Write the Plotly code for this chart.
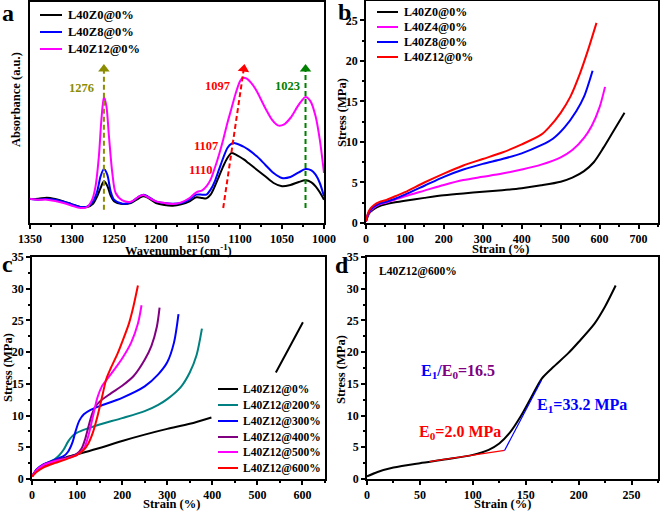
import plotly.graph_objects as go
import math

W, H = 660, 511
FONT = "Liberation Serif"

# ---------------- Panel a: FTIR ----------------
wn_z0 = [1350,1340,1330,1320,1310,1300,1290,1282,1275,1270,1266,1262,1258,1254,1250,1240,1230,1220,1215,1210,1200,1190,1180,1170,1160,1152,1145,1140,1135,1130,1125,1120,1115,1110,1105,1100,1095,1090,1080,1070,1060,1050,1040,1030,1022,1015,1010,1005,1000]
ab_z0 = [0.72,0.73,0.76,0.72,0.65,0.56,0.48,0.48,0.58,0.80,1.05,1.25,1.12,0.82,0.65,0.57,0.60,0.75,0.80,0.76,0.60,0.54,0.52,0.56,0.65,0.77,0.75,0.74,0.85,1.10,1.40,1.70,1.95,2.10,2.05,1.98,1.90,1.80,1.60,1.40,1.20,1.10,1.14,1.23,1.28,1.22,1.10,0.92,0.70]
wn_z8 = [1350,1340,1330,1320,1310,1300,1290,1282,1275,1270,1266,1262,1258,1254,1250,1240,1230,1220,1215,1210,1200,1190,1180,1170,1160,1152,1145,1140,1135,1130,1125,1120,1115,1110,1107,1100,1095,1090,1080,1070,1060,1050,1040,1030,1022,1015,1010,1005,1000]
ab_z8 = [0.72,0.70,0.72,0.70,0.64,0.56,0.48,0.49,0.65,0.95,1.40,1.62,1.45,0.95,0.70,0.58,0.62,0.80,0.85,0.80,0.65,0.60,0.58,0.60,0.70,0.85,0.85,0.85,1.00,1.25,1.60,1.95,2.25,2.38,2.40,2.34,2.28,2.20,2.00,1.75,1.50,1.35,1.38,1.52,1.62,1.58,1.45,1.20,0.80]
wn_z12 = [1350,1340,1330,1320,1310,1300,1290,1282,1276,1272,1268,1265,1262,1259,1256,1252,1248,1240,1230,1220,1215,1210,1200,1190,1180,1170,1160,1152,1145,1140,1135,1130,1125,1120,1115,1110,1105,1100,1097,1092,1085,1080,1070,1062,1055,1048,1040,1030,1022,1016,1010,1005,1000]
ab_z12 = [0.73,0.70,0.70,0.66,0.60,0.52,0.45,0.48,0.70,1.10,2.00,3.10,3.78,3.50,2.60,1.50,0.90,0.68,0.64,0.80,0.84,0.78,0.65,0.60,0.57,0.62,0.75,0.92,0.98,1.10,1.30,1.65,2.05,2.50,3.00,3.45,3.90,4.25,4.35,4.33,4.15,3.95,3.45,3.10,2.93,2.95,3.15,3.55,3.78,3.65,3.20,2.50,1.50]
names_a = ["L40Z0@0%", "L40Z8@0%", "L40Z12@0%"]
colors_a = ["#000000", "#0000ff", "#ff00ff"]

guide_x0 = [1262, 1120, 1022]
guide_x1 = [1262, 1095.5, 1022]
guide_y0 = [0.40, 0.45, 0.45]
guide_y1 = [4.62, 4.62, 4.62]
guide_col = ["#8c8c00", "#ff0000", "#008000"]
peak_labels = ["1276", "1097", "1107", "1110", "1023"]
peak_lx = [1289, 1127, 1141, 1147, 1044]
peak_ly = [4.05, 4.12, 2.30, 1.60, 4.12]
peak_col = ["#8c8c00", "#ff0000", "#ff0000", "#ff0000", "#008000"]

# ---------------- Panel b ----------------
sb0_x = [0,5,10,20,35,50,75,100,150,200,250,300,350,400,450,500,530,560,585,610,635,664]
sb0_y = [0.2,0.9,1.3,1.7,2.1,2.3,2.55,2.75,3.1,3.42,3.65,3.85,4.05,4.3,4.65,5.1,5.6,6.4,7.5,9.3,11.3,13.6]
sb4_x = [0,5,10,20,35,50,75,100,150,200,250,300,350,400,450,500,530,560,580,600,614]
sb4_y = [0.2,1.0,1.4,1.9,2.3,2.5,2.9,3.3,4.0,4.7,5.3,5.7,6.1,6.6,7.2,8.1,9.0,10.5,12.0,14.3,16.8]
sb8_x = [0,5,10,20,35,50,75,100,150,200,250,300,350,400,450,480,510,540,560,582]
sb8_y = [0.2,1.1,1.5,2.0,2.4,2.6,3.0,3.5,4.6,5.7,6.6,7.3,7.9,8.6,9.6,10.4,11.8,13.8,15.6,18.8]
sb12_x = [0,5,10,20,35,50,75,100,150,200,250,300,350,400,450,470,500,525,550,570,592]
sb12_y = [0.2,1.2,1.7,2.2,2.6,2.8,3.3,3.8,5.0,6.1,7.1,7.9,8.7,9.7,10.9,11.8,13.6,15.6,18.5,21.3,24.7]
names_b = ["L40Z0@0%", "L40Z4@0%", "L40Z8@0%", "L40Z12@0%"]
colors_b = ["#000000", "#ff00ff", "#0000ff", "#ff0000"]

# ---------------- Panel c ----------------
c0_x = [0,10,25,50,75,100,150,200,250,300,350,398,None,541,570,601]
c0_y = [0.4,1.3,2.0,2.8,3.4,3.9,4.9,6.0,7.0,7.9,8.7,9.7,None,16.8,20.6,24.7]
c200_x = [0,10,25,50,60,70,80,90,100,125,150,200,250,280,300,330,350,365,377]
c200_y = [0.4,1.4,2.2,3.1,3.7,4.6,5.9,6.8,7.3,8.0,8.6,9.6,10.7,11.7,12.6,14.5,16.8,19.5,23.7]
c300_x = [0,10,25,50,70,80,90,97,105,115,130,150,200,250,280,300,315,325]
c300_y = [0.4,1.5,2.3,3.0,3.6,4.3,5.8,7.6,9.2,10.2,10.9,11.5,12.8,14.6,16.5,18.4,21.5,26.0]
c400_x = [0,10,25,50,75,100,110,118,125,133,140,150,175,200,225,250,265,277,283]
c400_y = [0.4,1.4,2.2,2.9,3.3,4.0,4.8,6.3,8.2,10.2,11.3,12.2,13.5,14.7,16.2,18.8,21.0,24.0,27.0]
c500_x = [0,10,25,50,75,100,115,125,135,145,155,165,180,200,220,235,243]
c500_y = [0.4,1.4,2.2,2.8,3.2,3.8,4.8,6.8,9.8,12.8,14.6,15.6,17.0,19.0,21.5,24.5,27.4]
c600_x = [0,10,25,50,75,100,115,125,135,145,155,165,175,190,200,215,225,235]
c600_y = [0.4,1.1,1.8,2.5,3.1,3.8,4.6,5.6,7.3,9.8,12.8,15.8,17.5,19.8,21.6,24.5,27.2,30.5]
names_c = ["L40Z12@0%", "L40Z12@200%", "L40Z12@300%", "L40Z12@400%", "L40Z12@500%", "L40Z12@600%"]
colors_c = ["#000000", "#008080", "#0000ff", "#800080", "#ff00ff", "#ff0000"]

# ---------------- Panel d ----------------
e0_x = [59, 130]
e0_y = [2.75, 4.5]
e1_x = [130, 165]
e1_y = [4.5, 15.6]

fig = go.Figure()

def px_x(p):
    return p / W

def px_y(p):
    return 1 - p / H

dom = {
    "a": ([30, 324], [2, 223]),
    "b": ([366, 658], [1, 223]),
    "c": ([32, 325], [257, 479]),
    "d": ([367, 658], [257, 479]),
}

def xd(k):
    return [px_x(dom[k][0][0]), px_x(dom[k][0][1])]

def yd(k):
    return [px_y(dom[k][1][1]), px_y(dom[k][1][0])]

for xs, ys, c, n in zip([wn_z0, wn_z8, wn_z12], [ab_z0, ab_z8, ab_z12], colors_a, names_a):
    fig.add_trace(go.Scatter(x=xs, y=ys, mode="lines", name=n, line=dict(color=c, width=2, shape="spline", smoothing=0.8),
                             xaxis="x", yaxis="y", showlegend=False))

for x0, x1, y0, y1, c in zip(guide_x0, guide_x1, guide_y0, guide_y1, guide_col):
    fig.add_trace(go.Scatter(x=[x0, x1], y=[y0, y1], mode="lines", line=dict(color=c, width=2, dash="5px,3px"),
                             xaxis="x", yaxis="y", showlegend=False, hoverinfo="skip"))
    dxp = -(x1 - x0) * (294 / 350)
    dyp = (y1 - y0) * (221 / 6.63)
    ang = math.degrees(math.atan2(dxp, dyp))
    fig.add_trace(go.Scatter(x=[x1], y=[y1], mode="markers",
                             marker=dict(symbol="triangle-up", size=10, color=c, angle=ang),
                             xaxis="x", yaxis="y", showlegend=False, hoverinfo="skip"))

for xs, ys, c, n in zip([sb0_x, sb4_x, sb8_x, sb12_x], [sb0_y, sb4_y, sb8_y, sb12_y], colors_b, names_b):
    fig.add_trace(go.Scatter(x=xs, y=ys, mode="lines", name=n, line=dict(color=c, width=2, shape="spline", smoothing=0.8),
                             xaxis="x2", yaxis="y2", showlegend=False))

for xs, ys, c, n in zip([c0_x, c200_x, c300_x, c400_x, c500_x, c600_x],
                        [c0_y, c200_y, c300_y, c400_y, c500_y, c600_y], colors_c, names_c):
    fig.add_trace(go.Scatter(x=xs, y=ys, mode="lines", name=n, line=dict(color=c, width=2, shape="spline", smoothing=0.8),
                             xaxis="x3", yaxis="y3", showlegend=False, connectgaps=False))

fig.add_trace(go.Scatter(x=c600_x, y=c600_y, mode="lines", name="L40Z12@600%",
                         line=dict(color="#000000", width=2, shape="spline", smoothing=0.8),
                         xaxis="x4", yaxis="y4", showlegend=False))
fig.add_trace(go.Scatter(x=e0_x, y=e0_y, mode="lines", line=dict(color="#ff0000", width=1.2),
                         xaxis="x4", yaxis="y4", showlegend=False))
fig.add_trace(go.Scatter(x=e1_x, y=e1_y, mode="lines", line=dict(color="#0000ff", width=1.2),
                         xaxis="x4", yaxis="y4", showlegend=False))

tickfont = dict(family=FONT, size=12, color="black", weight="bold")
TITLE_SIZE = 12.5

def axis_common():
    return dict(showline=True, linecolor="black", linewidth=1.8, mirror=True, ticks="outside",
                ticklen=4, tickwidth=1.5, tickcolor="black", tickfont=tickfont, showgrid=False,
                zeroline=False, automargin=False)

xa = axis_common()
xa.update(domain=xd("a"), anchor="y", range=[1350, 1000], dtick=50, tick0=1000,
          minor=dict(ticks="outside", ticklen=2.5, dtick=25, tickcolor="black"))
ya = axis_common()
ya.update(domain=yd("a"), anchor="x", range=[0, 6.63], showticklabels=False, ticks="")

xb = axis_common()
xb.update(domain=xd("b"), anchor="y2", range=[0, 750], dtick=100,
          minor=dict(ticks="outside", ticklen=2.5, dtick=50, tickcolor="black"))
yb = axis_common()
yb.update(domain=yd("b"), anchor="x2", range=[0, 27.4], dtick=5,
          minor=dict(ticks="outside", ticklen=2.5, dtick=2.5, tickcolor="black"))

xc = axis_common()
xc.update(domain=xd("c"), anchor="y3", range=[0, 650], dtick=100,
          minor=dict(ticks="outside", ticklen=2.5, dtick=50, tickcolor="black"))
yc = axis_common()
yc.update(domain=yd("c"), anchor="x3", range=[0, 35], dtick=5,
          minor=dict(ticks="outside", ticklen=2.5, dtick=2.5, tickcolor="black"))

xdd = axis_common()
xdd.update(domain=xd("d"), anchor="y4", range=[0, 275], dtick=50,
           minor=dict(ticks="outside", ticklen=2.5, dtick=25, tickcolor="black"))
ydd = axis_common()
ydd.update(domain=yd("d"), anchor="x4", range=[0, 35], dtick=5,
           minor=dict(ticks="outside", ticklen=2.5, dtick=2.5, tickcolor="black"))

annotations = []
shapes = []

axis_titles = [
    ("Absorbance (a.u.)", 16, 100, -90),
    ("Wavenumber (cm<sup>-1</sup>)", 178, 250, 0),
    ("Strain (%)", 501, 249, 0),
    ("Stress (MPa)", 342, 113, -90),
    ("Strain (%)", 171, 504, 0),
    ("Stress (MPa)", 8, 368, -90),
    ("Strain (%)", 502, 504, 0),
    ("Stress (MPa)", 341, 370, -90),
]
for t, x, y, a in axis_titles:
    annotations.append(dict(text=f"<b>{t}</b>", x=px_x(x), y=px_y(y), xref="paper", yref="paper",
                            xanchor="center", yanchor="middle", textangle=a, showarrow=False,
                            font=dict(family=FONT, size=TITLE_SIZE, color="black")))

for letter, lx, ly in [("a", 0, 13), ("b", 336, 12), ("c", 0, 264), ("d", 333, 265)]:
    annotations.append(dict(text=f"<b>{letter}</b>", x=px_x(lx), y=px_y(ly), xref="paper", yref="paper",
                            xanchor="left", yanchor="middle", showarrow=False,
                            font=dict(family=FONT, size=24, color="black")))

def add_legend(names, colors, x0, x1, tx, ys, size):
    for n, c, yy in zip(names, colors, ys):
        shapes.append(dict(type="line", xref="paper", yref="paper", x0=px_x(x0), x1=px_x(x1),
                           y0=px_y(yy), y1=px_y(yy), line=dict(color=c, width=2)))
        annotations.append(dict(text=f"<b>{n}</b>", x=px_x(tx), y=px_y(yy), xref="paper", yref="paper",
                                xanchor="left", yanchor="middle", showarrow=False,
                                font=dict(family=FONT, size=size, color="black")))

add_legend(names_a, colors_a, 40, 62, 66, [15, 32, 49], 12.5)
add_legend(names_b, colors_b, 377, 398, 402, [12, 27, 42, 57], 12)
add_legend(names_c, colors_c, 218, 238, 241, [389, 405, 421, 437, 452, 468], 11.5)

for t, x, y, c in zip(peak_labels, peak_lx, peak_ly, peak_col):
    annotations.append(dict(text=f"<b>{t}</b>", x=x, y=y, xref="x", yref="y", showarrow=False,
                            font=dict(family=FONT, size=12.5, color=c)))

annotations.append(dict(text="<b>L40Z12@600%</b>", x=(377 - 367) / 291, y=1 - (271 - 257) / 222,
                        xref="x4 domain", yref="y4 domain", xanchor="left", yanchor="middle", showarrow=False,
                        font=dict(family=FONT, size=11.5, color="black")))
annotations.append(dict(text="<b><span style='color:#0000ff'>E<sub>1</sub>/</span><span style='color:#800080'>E<sub>0</sub>=16.5</span></b>",
                        x=86, y=16.9, xref="x4", yref="y4", showarrow=False,
                        font=dict(family=FONT, size=16, color="#0000ff")))
annotations.append(dict(text="<b>E<sub>1</sub>=33.2 MPa</b>", x=203, y=11.6, xref="x4", yref="y4", showarrow=False,
                        font=dict(family=FONT, size=16, color="#0000ff")))
annotations.append(dict(text="<b>E<sub>0</sub>=2.0 MPa</b>", x=88, y=7.4, xref="x4", yref="y4", showarrow=False,
                        font=dict(family=FONT, size=16, color="#ff0000")))

fig.update_layout(
    width=W, height=H, margin=dict(l=0, r=0, t=0, b=0),
    paper_bgcolor="white", plot_bgcolor="white",
    font=dict(family=FONT, color="black"),
    xaxis=xa, yaxis=ya, xaxis2=xb, yaxis2=yb, xaxis3=xc, yaxis3=yc, xaxis4=xdd, yaxis4=ydd,
    annotations=annotations, shapes=shapes, showlegend=False,
)

fig.write_html("out.html", config={"displayModeBar": False},
               post_script="document.body.style.margin='0';document.body.style.overflow='hidden';")
